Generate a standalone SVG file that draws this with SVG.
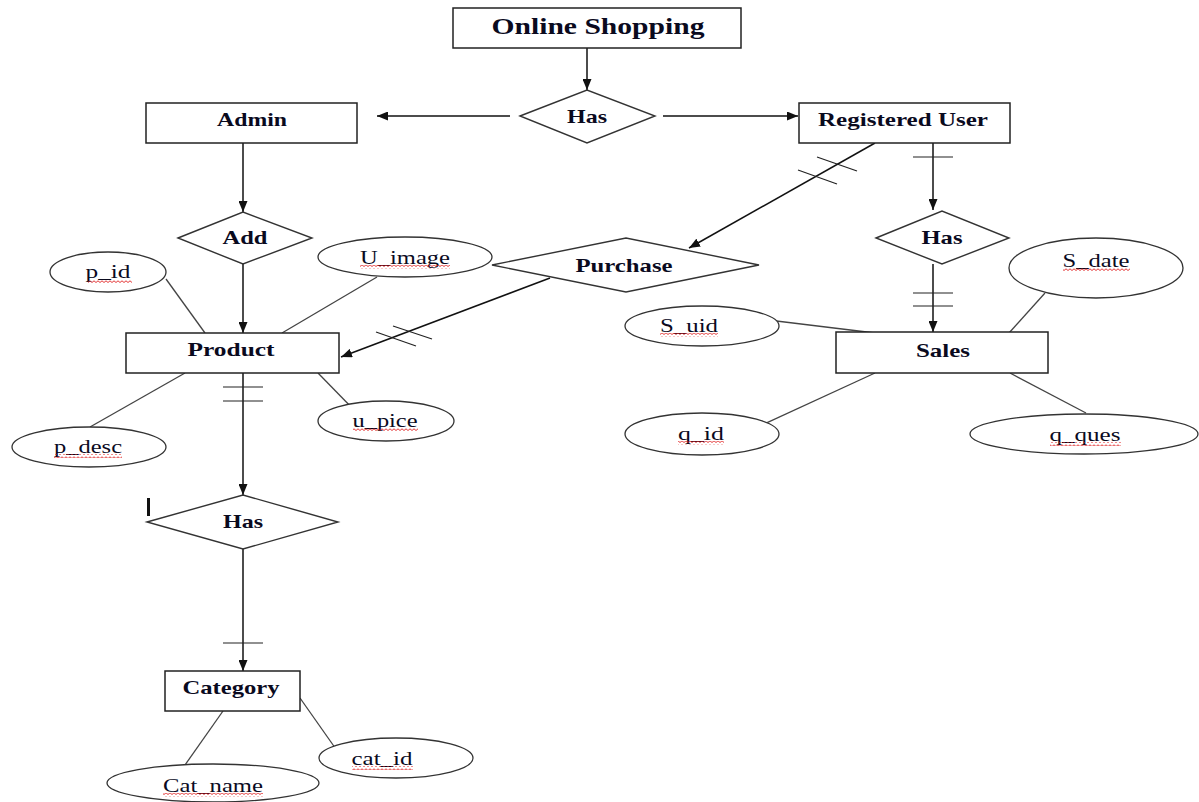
<svg xmlns="http://www.w3.org/2000/svg" width="1199" height="802" viewBox="0 0 1199 802">
  <style>
    .ent { fill: #fff; stroke: #222; stroke-width: 1.5; }
    .rel { fill: #fff; stroke: #333; stroke-width: 1.4; }
    .attr { fill: #fff; stroke: #333; stroke-width: 1.3; }
    .lbl { font-family: "Liberation Serif", "Times New Roman", serif; font-weight: bold; font-size: 19px; fill: #0a0a1e; text-anchor: middle; }
    .title { font-size: 23px; }
    .alb { font-family: "Liberation Serif", "Times New Roman", serif; font-size: 19px; fill: #0a0a1e; text-anchor: middle; }
    .rel-line { stroke: #111; stroke-width: 1.5; fill: none; }
    .att-line { stroke: #444; stroke-width: 1.3; fill: none; }
    .tick { stroke: #222; stroke-width: 1.2; fill: none; }
    .squiggle { fill: url(#wavy); }
  </style>
  <defs>
    <marker id="arrow" markerUnits="userSpaceOnUse" markerWidth="11" markerHeight="9" refX="11" refY="4.5" orient="auto">
      <path d="M0,0 L11,4.5 L0,9 z" fill="#111"/>
    </marker>
    <pattern id="wavy" patternUnits="userSpaceOnUse" width="4" height="4">
      <path d="M0,2.5 L2,0.8 L4,2.5" stroke="#e02020" stroke-width="0.9" fill="none"/>
    </pattern>
  </defs>

  <rect width="1199" height="802" fill="#fff"/>

  <!-- relationship and attribute lines -->
  <g id="connectors">
    <line class="rel-line" x1="587" y1="48" x2="587" y2="90" marker-end="url(#arrow)"/>
    <line class="rel-line" x1="510" y1="116" x2="377" y2="116" marker-end="url(#arrow)"/>
    <line class="rel-line" x1="663" y1="116" x2="798" y2="116" marker-end="url(#arrow)"/>
    <line class="rel-line" x1="243" y1="143" x2="243" y2="212" marker-end="url(#arrow)"/>
    <line class="rel-line" x1="243" y1="264" x2="243" y2="333" marker-end="url(#arrow)"/>

    <!-- Registered User to Purchase -->
    <line class="rel-line" x1="875" y1="143" x2="689" y2="248" marker-end="url(#arrow)"/>
    <line class="tick" x1="817" y1="157" x2="857" y2="171"/>
    <line class="tick" x1="798" y1="170" x2="837" y2="184"/>

    <!-- Purchase to Product -->
    <line class="rel-line" x1="550" y1="278" x2="341" y2="357" marker-end="url(#arrow)"/>
    <line class="tick" x1="393" y1="326" x2="432" y2="339"/>
    <line class="tick" x1="376" y1="332" x2="416" y2="346"/>

    <!-- Registered User to Has to Sales -->
    <line class="rel-line" x1="933" y1="143" x2="933" y2="210" marker-end="url(#arrow)"/>
    <line class="tick" x1="913" y1="157" x2="953" y2="157"/>
    <line class="rel-line" x1="933" y1="264" x2="933" y2="332" marker-end="url(#arrow)"/>
    <line class="tick" x1="913" y1="293" x2="953" y2="293"/>
    <line class="tick" x1="913" y1="306" x2="953" y2="306"/>

    <!-- Product to Has to Category -->
    <line class="rel-line" x1="243" y1="373" x2="243" y2="495" marker-end="url(#arrow)"/>
    <line class="tick" x1="223" y1="387" x2="263" y2="387"/>
    <line class="tick" x1="223" y1="401" x2="263" y2="401"/>
    <line class="rel-line" x1="243" y1="549" x2="243" y2="671" marker-end="url(#arrow)"/>
    <line class="tick" x1="223" y1="643" x2="263" y2="643"/>

    <!-- attribute links -->
    <line class="att-line" x1="166" y1="279" x2="205" y2="333"/>
    <line class="att-line" x1="377" y1="277" x2="282" y2="333"/>
    <line class="att-line" x1="90" y1="427" x2="185" y2="373"/>
    <line class="att-line" x1="318" y1="373" x2="357" y2="413"/>
    <line class="att-line" x1="760" y1="319" x2="875" y2="333"/>
    <line class="att-line" x1="760" y1="426" x2="875" y2="373"/>
    <line class="att-line" x1="1045" y1="293" x2="1009" y2="333"/>
    <line class="att-line" x1="1010" y1="373" x2="1086" y2="413"/>
    <line class="att-line" x1="223" y1="711" x2="185" y2="765"/>
    <line class="att-line" x1="300" y1="698" x2="338" y2="752"/>
  </g>

  <!-- entities -->
  <g id="online-shopping">
    <rect class="ent" x="453" y="8" width="288" height="40"/>
    <text class="lbl title" x="598" y="34" textLength="213" lengthAdjust="spacingAndGlyphs">Online Shopping</text>
  </g>
  <g id="admin">
    <rect class="ent" x="146" y="103" width="211" height="40"/>
    <text class="lbl" x="252" y="126" textLength="70" lengthAdjust="spacingAndGlyphs">Admin</text>
  </g>
  <g id="registered-user">
    <rect class="ent" x="799" y="103" width="211" height="40"/>
    <text class="lbl" x="903" y="126" textLength="170" lengthAdjust="spacingAndGlyphs">Registered User</text>
  </g>
  <g id="product">
    <rect class="ent" x="126" y="333" width="213" height="40"/>
    <text class="lbl" x="231" y="356" textLength="87" lengthAdjust="spacingAndGlyphs">Product</text>
  </g>
  <g id="sales">
    <rect class="ent" x="836" y="332" width="212" height="41"/>
    <text class="lbl" x="943" y="357" textLength="54" lengthAdjust="spacingAndGlyphs">Sales</text>
  </g>
  <g id="category">
    <rect class="ent" x="165" y="671" width="135" height="40"/>
    <text class="lbl" x="231" y="694" textLength="97" lengthAdjust="spacingAndGlyphs">Category</text>
  </g>

  <!-- relationships -->
  <g id="has-top">
    <polygon class="rel" points="520,116 587,90 655,116 587,143"/>
    <text class="lbl" x="587" y="123" textLength="40" lengthAdjust="spacingAndGlyphs">Has</text>
  </g>
  <g id="add">
    <polygon class="rel" points="178,238 243,212 312,238 243,264"/>
    <text class="lbl" x="245" y="244" textLength="45" lengthAdjust="spacingAndGlyphs">Add</text>
  </g>
  <g id="purchase">
    <polygon class="rel" points="492,265 626,238 759,265 626,292"/>
    <text class="lbl" x="624" y="272" textLength="97" lengthAdjust="spacingAndGlyphs">Purchase</text>
  </g>
  <g id="has-sales">
    <polygon class="rel" points="876,238 942,211 1009,238 942,264"/>
    <text class="lbl" x="942" y="244" textLength="41" lengthAdjust="spacingAndGlyphs">Has</text>
  </g>
  <g id="has-category">
    <polygon class="rel" points="147,522 243,495 338,522 243,549"/>
    <text class="lbl" x="243" y="528" textLength="40" lengthAdjust="spacingAndGlyphs">Has</text>
    <rect x="147" y="498" width="3" height="18" fill="#111"/>
  </g>

  <!-- attributes -->
  <g id="attr-p-id">
    <ellipse class="attr" cx="108" cy="272" rx="58" ry="20"/>
    <text class="alb" x="108" y="278" textLength="45" lengthAdjust="spacingAndGlyphs">p_id</text>
    <rect class="squiggle" x="88" y="279" width="44" height="4"/>
  </g>
  <g id="attr-u-image">
    <ellipse class="attr" cx="405" cy="257" rx="87" ry="20"/>
    <text class="alb" x="405" y="264" textLength="90" lengthAdjust="spacingAndGlyphs">U_image</text>
    <rect class="squiggle" x="360" y="265" width="90" height="4"/>
  </g>
  <g id="attr-p-desc">
    <ellipse class="attr" cx="89" cy="447" rx="77" ry="20"/>
    <text class="alb" x="88" y="453" textLength="68" lengthAdjust="spacingAndGlyphs">p_desc</text>
    <rect class="squiggle" x="54" y="454" width="68" height="4"/>
  </g>
  <g id="attr-u-pice">
    <ellipse class="attr" cx="386" cy="421" rx="68" ry="20"/>
    <text class="alb" x="385" y="427" textLength="65" lengthAdjust="spacingAndGlyphs">u_pice</text>
    <rect class="squiggle" x="353" y="428" width="65" height="4"/>
  </g>
  <g id="attr-s-uid">
    <ellipse class="attr" cx="702" cy="326" rx="77" ry="20"/>
    <text class="alb" x="689" y="332" textLength="58" lengthAdjust="spacingAndGlyphs">S_uid</text>
    <rect class="squiggle" x="660" y="333" width="58" height="4"/>
  </g>
  <g id="attr-s-date">
    <ellipse class="attr" cx="1096" cy="268" rx="87" ry="30"/>
    <text class="alb" x="1096" y="267" textLength="67" lengthAdjust="spacingAndGlyphs">S_date</text>
    <rect class="squiggle" x="1063" y="268" width="67" height="4"/>
  </g>
  <g id="attr-q-id">
    <ellipse class="attr" cx="702" cy="434" rx="77" ry="21"/>
    <text class="alb" x="701" y="440" textLength="46" lengthAdjust="spacingAndGlyphs">q_id</text>
    <rect class="squiggle" x="678" y="441" width="46" height="4"/>
  </g>
  <g id="attr-q-ques">
    <ellipse class="attr" cx="1084" cy="434" rx="114" ry="20"/>
    <text class="alb" x="1085" y="441" textLength="71" lengthAdjust="spacingAndGlyphs">q_ques</text>
    <rect class="squiggle" x="1050" y="442" width="71" height="4"/>
  </g>
  <g id="attr-cat-id">
    <ellipse class="attr" cx="396" cy="758" rx="77" ry="20"/>
    <text class="alb" x="382" y="765" textLength="61" lengthAdjust="spacingAndGlyphs">cat_id</text>
    <rect class="squiggle" x="352" y="766" width="61" height="4"/>
  </g>
  <g id="attr-cat-name">
    <ellipse class="attr" cx="213" cy="783" rx="106" ry="19"/>
    <text class="alb" x="213" y="792" textLength="100" lengthAdjust="spacingAndGlyphs">Cat_name</text>
    <rect class="squiggle" x="163" y="793" width="100" height="4"/>
  </g>
</svg>
